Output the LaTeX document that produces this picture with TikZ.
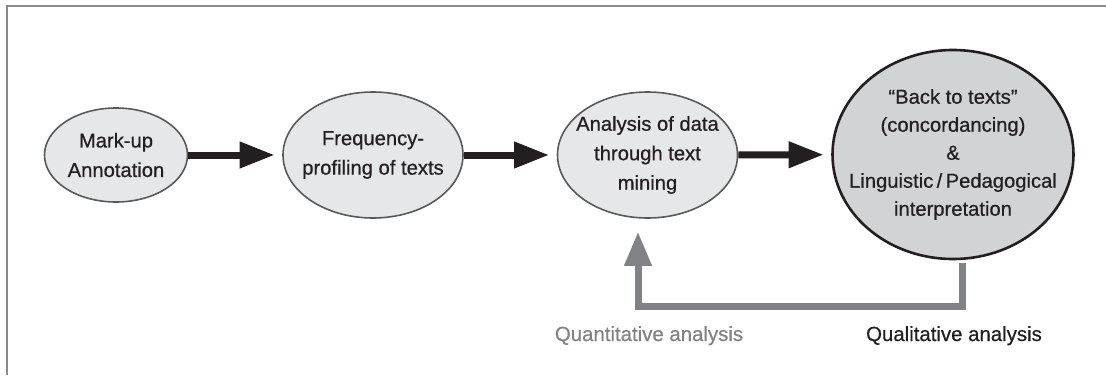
\documentclass[tikz,border=0pt]{standalone}
\usepackage{fontspec}
\setmainfont[FakeBold=0.6]{Liberation Sans}
\usetikzlibrary{shapes.geometric,arrows.meta}
\definecolor{ink}{HTML}{231F20}
\definecolor{rim}{HTML}{58595B}
\definecolor{pale}{HTML}{E6E7E8}
\definecolor{mid}{HTML}{D1D3D4}
\definecolor{fbgray}{HTML}{808285}
\definecolor{framegray}{HTML}{8A8A8A}

\begin{document}
\begin{tikzpicture}[x=1pt,y=-1pt,
  stage/.style={ellipse, draw=rim, line width=1.6pt, fill=pale, inner sep=0pt},
  goal/.style={stage, draw=ink, line width=2.6pt, fill=mid},
  txt/.style={align=center, text=ink, inner sep=0pt, font=\fontsize{20.2}{29.5}\selectfont},
  goaltxt/.style={txt, font=\fontsize{20.2}{28}\selectfont},
  caption/.style={anchor=base, inner sep=0pt, font=\fontsize{20.4}{25}\selectfont},
  flow/.style={draw=ink, line width=7pt, -{Triangle[length=35pt,width=25pt]}, shorten >=7.5pt},
  loop/.style={draw=fbgray, line width=7pt, line join=miter, -{Triangle[length=34pt,width=26pt]}, shorten <=2.5pt, shorten >=13pt},
  ]
\useasboundingbox (0,0) rectangle (1106,375);

% outer frame (top and left edges)
\draw[framegray, line width=2pt] (6.5,375) -- (6.5,6) -- (1106,6);

% stages
\node[stage, minimum width=143pt, minimum height=94pt] (E1) at (116,155) {};
\node[txt] (E1t) at (E1) {Mark-up\\Annotation};

\node[stage, minimum width=180pt, minimum height=126pt] (E2) at (373,155) {};
\node[txt] (E2t) at (E2) {Frequency-\\profiling of texts};

\node[stage, minimum width=180pt, minimum height=126pt] (E3) at (647.5,155) {};
\node[txt] (E3t) at (E3) {Analysis of data\\through text\\mining};

\node[goal, minimum width=241pt, minimum height=209pt] (E4) at (953,154.5) {};
\node[goaltxt] (E4t) at (E4) {“Back to texts”\\(concordancing)\\\&\\Linguistic\,/\,Pedagogical\\interpretation};

% forward flow
\draw[flow] (E1) -- (E2);
\draw[flow] (E2) -- (E3);
\draw[flow] (E3) -- (E4);

% feedback loop
\coordinate (fbR) at (962,306);
\coordinate (fbL) at (638,306);
\draw[loop] (E4.south -| fbR) -- (fbR) -- (fbL) -- (E3.south -| fbL);

% captions
\node[caption, text=fbgray] (qn) at (649,341) {Quantitative analysis};
\node[caption, text=ink] (ql) at (954,341) {Qualitative analysis};
\end{tikzpicture}
\end{document}
